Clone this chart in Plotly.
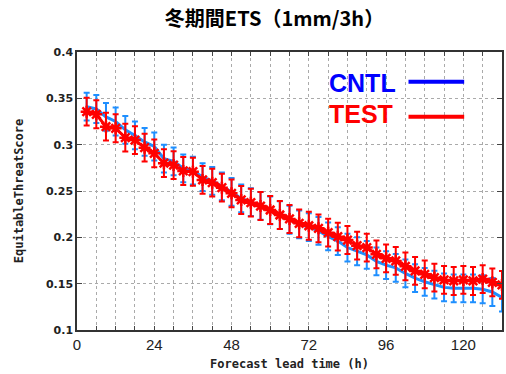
import plotly.graph_objects as go

hours = list(range(3, 133, 3))

cntl = [0.341, 0.3385, 0.330, 0.325, 0.316, 0.310, 0.303, 0.298, 0.285, 0.282, 0.2745,
        0.272, 0.265, 0.261, 0.255, 0.249, 0.242, 0.238, 0.234, 0.229, 0.224, 0.219,
        0.214, 0.211, 0.207, 0.201, 0.196, 0.189, 0.185, 0.181, 0.174, 0.170, 0.167,
        0.161, 0.156, 0.152, 0.149, 0.146, 0.145, 0.145, 0.145, 0.144, 0.141, 0.135]
cntl_err = [0.015] * 44

test = [0.3356, 0.3328, 0.3194, 0.3177, 0.3075, 0.305, 0.2967, 0.2907, 0.280, 0.278, 0.2716,
        0.2708, 0.2619, 0.259, 0.2536, 0.2475, 0.2403, 0.2374, 0.2338, 0.2295, 0.2241, 0.2198,
        0.2151, 0.2125, 0.2097, 0.205, 0.2007, 0.1971, 0.191, 0.1889, 0.1817, 0.1774, 0.1745,
        0.1687, 0.1637, 0.1601, 0.1565, 0.154, 0.1529, 0.154, 0.1529, 0.155, 0.1515, 0.1486]
test_err = [0.015] * 44

x_ticks = [0, 24, 48, 72, 96, 120]
y_ticks = [0.1, 0.15, 0.2, 0.25, 0.3, 0.35, 0.4]
y_labels = ["0.1", "0.15", "0.2", "0.25", "0.3", "0.35", "0.4"]

fig = go.Figure()
fig.add_trace(go.Scatter(
    x=hours, y=cntl, mode="lines", name="CNTL",
    line=dict(color="#1e8fff", width=3),
    error_y=dict(type="data", array=cntl_err, color="#1e8fff", thickness=2, width=3),
))
fig.add_trace(go.Scatter(
    x=hours, y=test, mode="lines+markers", name="TEST",
    line=dict(color="#ff0000", width=3),
    marker=dict(symbol="asterisk-open", size=10, color="#ff0000", line=dict(color="#ff0000", width=2.5)),
    error_y=dict(type="data", array=test_err, color="#ff0000", thickness=2, width=3),
))

mono = dict(family="DejaVu Sans Mono", size=12, color="#222", weight="bold")
tickf = dict(family="DejaVu Sans", size=11, color="#222", weight="bold")

fig.update_layout(
    width=506, height=374,
    margin=dict(l=77, r=2, t=52, b=44),
    paper_bgcolor="white", plot_bgcolor="white",
    showlegend=False,
    title=dict(text="冬期間ETS（1mm/3h）", xref="container", x=0.5425, xanchor="center",
               yref="container", y=0.948, yanchor="middle",
               font=dict(family="Noto Sans CJK JP", size=20, color="black", weight="bold")),
    xaxis=dict(range=[0, 132], tickvals=x_ticks, ticktext=[str(v) for v in x_ticks],
               ticks="inside", ticklen=4, mirror="ticks", showline=True, linecolor="#333", linewidth=1.5,
               showgrid=True, gridcolor="#aaaaaa", griddash="dot", gridwidth=1,
               minor=dict(dtick=6, ticks="inside", ticklen=4, showgrid=True, gridcolor="#aaaaaa", griddash="dot"),
               tickfont=dict(family="Liberation Sans", size=15, color="#222"),
               title=dict(text="Forecast lead time (h)", font=mono, standoff=8),
               zeroline=False),
    yaxis=dict(range=[0.1, 0.4], tickvals=y_ticks, ticktext=y_labels,
               ticks="inside", ticklen=5, mirror="ticks", showline=True, linecolor="#333", linewidth=1.5,
               showgrid=True, gridcolor="#aaaaaa", griddash="dot", gridwidth=1,
               tickfont=tickf, title=dict(text="EquitableThreatScore", font=mono, standoff=20),
               zeroline=False),
)

legend_font = dict(family="Liberation Sans", size=25, weight="bold")
fig.add_annotation(xref="paper", yref="paper", x=0.588, y=0.888, text="CNTL", showarrow=False,
                   xanchor="left", yanchor="middle", font=dict(color="#0000ff", **legend_font))
fig.add_annotation(xref="paper", yref="paper", x=0.588, y=0.777, text="TEST", showarrow=False,
                   xanchor="left", yanchor="middle", font=dict(color="#ff0000", **legend_font))
fig.add_shape(type="line", xref="paper", yref="paper", x0=0.780, x1=0.911, y0=0.893, y1=0.893,
              line=dict(color="#0000ff", width=4))
fig.add_shape(type="line", xref="paper", yref="paper", x0=0.780, x1=0.911, y0=0.767, y1=0.767,
              line=dict(color="#ff0000", width=4))

fig.write_html("out.html")
